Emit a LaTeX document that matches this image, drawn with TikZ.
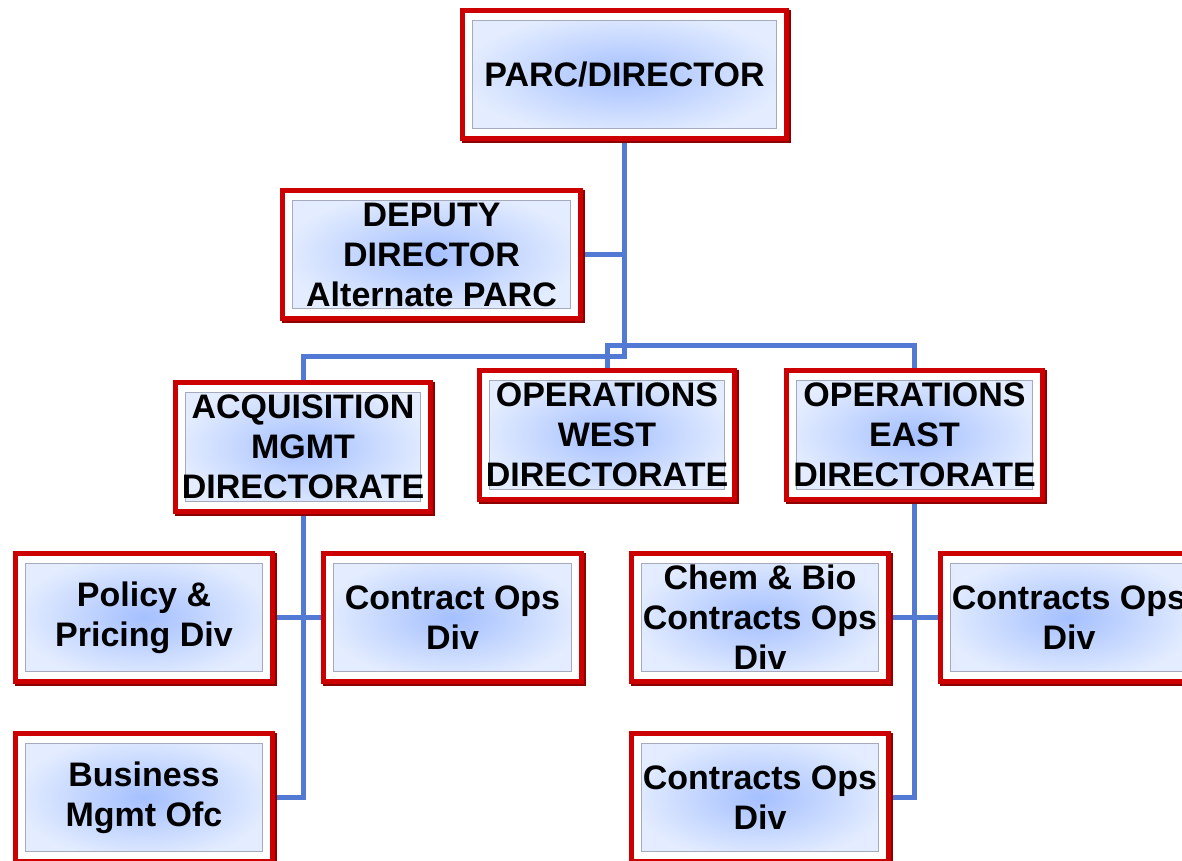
\documentclass[tikz,border=0pt]{standalone}
\usepackage{fontspec}
\setmainfont{Liberation Sans}
\usetikzlibrary{backgrounds}
\definecolor{boxred}{RGB}{204,0,0}
\definecolor{boxdark}{RGB}{140,0,0}
\definecolor{boxin}{RGB}{165,192,255}
\definecolor{boxout}{RGB}{228,237,255}
\definecolor{boxedge}{RGB}{165,170,190}
\definecolor{conn}{RGB}{82,122,212}
\tikzset{
  orgbox/.style={rectangle, draw=boxred, line width=5pt, fill=white,
    align=center, inner sep=0pt,
    font=\bfseries\fontsize{34}{40}\selectfont,
    preaction={draw=boxdark, line width=5pt, transform canvas={shift={(1.6pt,-1.6pt)}}},
    path picture={
      \shade[inner color=boxin, outer color=boxout, draw=boxedge, line width=1.8pt]
        ([shift={(10pt,10pt)}]path picture bounding box.south west) rectangle
        ([shift={(-10pt,-10pt)}]path picture bounding box.north east);
    }},
  connline/.style={draw=conn, line width=5pt},
}
\begin{document}
\begin{tikzpicture}[x=1pt,y=-1pt]
\useasboundingbox (0,0) rectangle (1182,861);
\clip (0,0) rectangle (1182,861);
\node[orgbox, minimum width=324pt, minimum height=128pt] (top) at (624.5,74.5) {PARC/DIRECTOR};
\node[orgbox, minimum width=298pt, minimum height=128pt] (dep) at (431.5,254.5) {DEPUTY\\DIRECTOR\\Alternate PARC};
\node[orgbox, minimum width=255pt, minimum height=129pt] (acq) at (303,447) {ACQUISITION\\MGMT\\DIRECTORATE};
\node[orgbox, minimum width=255pt, minimum height=129pt] (opw) at (607,435) {OPERATIONS\\WEST\\DIRECTORATE};
\node[orgbox, minimum width=256pt, minimum height=129pt] (ope) at (914.5,435) {OPERATIONS\\EAST\\DIRECTORATE};
\node[orgbox, minimum width=257pt, minimum height=128pt] (pol) at (144,617.5) {Policy \&\\Pricing Div};
\node[orgbox, minimum width=258pt, minimum height=128pt] (cop) at (452.5,617.5) {Contract Ops\\Div};
\node[orgbox, minimum width=257pt, minimum height=128pt] (bus) at (144,797.5) {Business\\Mgmt Ofc};
\node[orgbox, minimum width=257pt, minimum height=128pt] (chem) at (760,617.5) {Chem \& Bio\\Contracts Ops\\Div};
\node[orgbox, minimum width=257pt, minimum height=128pt] (cor) at (1069,617.5) {Contracts Ops\\Div};
\node[orgbox, minimum width=257pt, minimum height=128pt] (cob) at (760,797.5) {Contracts Ops\\Div};
\begin{scope}[on background layer]
  \draw[connline] (top.south) -- ++(0,215) -| (acq.north);
  \draw[connline] (top.south) -- ++(0,204) -| (opw.north);
  \draw[connline] (top.south) -- ++(0,204) -| (ope.north);
  \draw[connline] (dep.east) -- (dep.east -| top.south);
  \draw[connline] (acq.south) |- (bus.east);
  \draw[connline] (pol.east) -- (cop.west);
  \draw[connline] (ope.south) |- (cob.east);
  \draw[connline] (chem.east) -- (cor.west);
\end{scope}
\end{tikzpicture}
\end{document}
